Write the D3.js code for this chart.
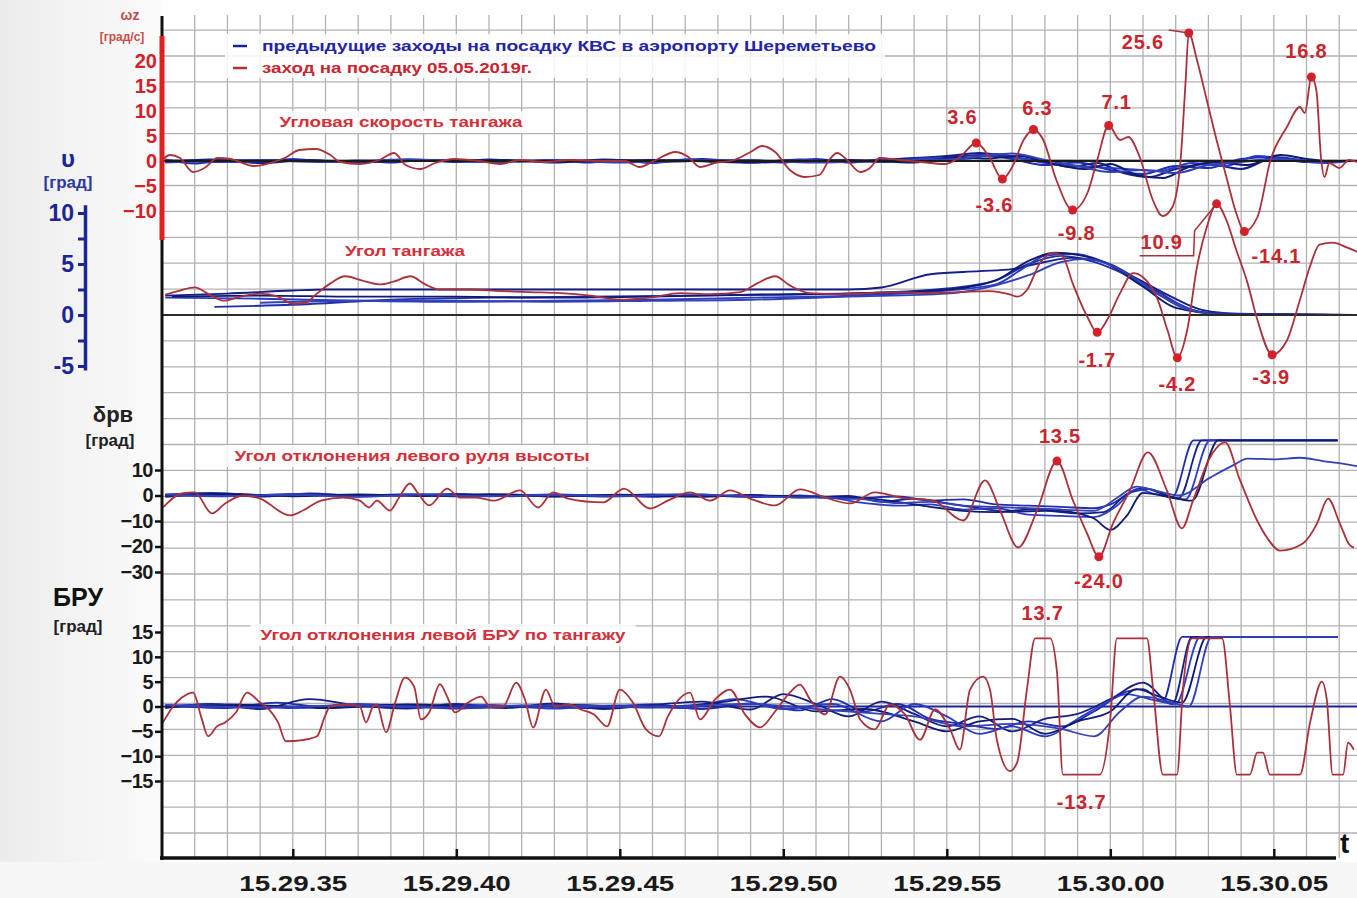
<!DOCTYPE html>
<html><head><meta charset="utf-8">
<script src="https://cdn.jsdelivr.net/npm/d3@7"></script>
<style>
body{margin:0;background:#fff}
svg{display:block}
text{font-family:"Liberation Sans",Arial,sans-serif;font-weight:bold}
</style></head>
<body><svg id="c" width="1357" height="898"></svg>
<script>
// ---------------- DATA (t = seconds after 15:29:00) ----------------
const timeTicks = [35, 40, 45, 50, 55, 60, 65];
const timeTickLabels = ["15.29.35","15.29.40","15.29.45","15.29.50","15.29.55","15.30.00","15.30.05"];
const wzTicks = [20, 15, 10, 5, 0, -5, -10];
const pitchTicks = [10, 7.5, 5, 2.5, 0, -2.5, -5];
const elevTicks = [10, 0, -10, -20, -30];
const bruTicks = [15, 10, 5, 0, -5, -10, -15];

const legendLabels = ["предыдущие заходы на посадку КВС в аэропорту Шереметьево", "заход на посадку 05.05.2019г."];
const panelTitles = ["Угловая скорость тангажа", "Угол тангажа", "Угол отклонения левого руля высоты", "Угол отклонения левой БРУ по тангажу"];

// Pitch rate ωz, flight 05.05.2019 (deg/s)
const wzRed = [[31,0.2],[31.25,1.2],[31.55,0.6],[31.95,-2.2],[32.3,-1.4],[32.7,0.6],[33.1,0.4],[33.8,-1.0],[34.3,-0.4],[34.75,0.6],[35.2,2.2],[35.7,2.4],[36.15,1.2],[36.45,-0.2],[37.05,-0.6],[37.65,0.2],[38.1,1.6],[38.45,-0.8],[38.9,-1.6],[39.35,-0.4],[39.95,0.4],[40.7,0],[41.35,-0.6],[41.95,0.2],[42.7,-0.2],[43.5,0.2],[44.4,0],[45.15,0],[45.6,-1.2],[46.1,0.2],[46.7,1.8],[47.1,0.8],[47.45,-1.2],[47.9,-0.4],[48.5,0.2],[49.0,1.8],[49.35,3.0],[49.75,1.8],[50.2,-1.8],[50.65,-3.2],[51.1,-2.8],[51.4,0.2],[51.65,1.6],[51.95,0.2],[52.35,-2.2],[52.65,-1.4],[52.95,0.6],[53.55,0.2],[54.2,-0.2],[54.95,-0.6],[55.4,0.8],[55.9,3.6],[56.3,0.8],[56.7,-3.6],[57.0,-1.2],[57.35,4.2],[57.65,6.3],[57.95,4.2],[58.35,-3.8],[58.85,-9.8],[59.3,-6.4],[59.6,0.2],[59.95,7.1],[60.3,4.2],[60.55,4.8],[60.9,0.8],[61.3,-7.8],[61.6,-11.0],[61.9,-9.2],[62.15,0.2],[62.3,15.6],[62.4,25.6],[62.65,20.2],[62.95,12.2],[63.25,4.2],[63.55,-3.2],[63.85,-10.4],[64.1,-14.1],[64.5,-11.2],[64.9,0.2],[65.4,6.8],[65.8,10.8],[65.95,9.6],[66.15,16.8],[66.3,14.2],[66.45,0.2],[66.55,-3.2],[66.7,-0.4],[67.0,-1.4],[67.3,0.2],[67.55,-0.2]];
// Pitch rate, previous approaches
const wzBlue1 = [[31.1,0.3],[32,-0.5],[33,0.2],[34,-0.3],[35,0.4],[36,-0.2],[37,0.1],[38,-0.3],[39,0.2],[40,-0.2],[41,0.3],[42,-0.1],[43,0.2],[44,-0.3],[45,0.2],[46,-0.4],[47,0.3],[48,-0.2],[49,0.2],[50,-0.3],[51,0.4],[52,-0.3],[53,0.3],[54,-0.2],[55,0.6],[56,1.2],[57,0.4],[58,-0.8],[59,-0.3],[60,-1.8],[61,-2.6],[62,-1.0],[63,-1.4],[64,0.4],[65,0.8],[66,0.1],[67,-0.2]];
const wzBlue2 = [[31.1,-0.2],[32.5,0.3],[34,-0.4],[35.5,0.2],[37,-0.3],[38.5,0.3],[40,-0.1],[41.5,0.2],[43,-0.3],[44.5,0.3],[46,-0.2],[47.5,0.4],[49,-0.3],[50.5,0.3],[52,-0.2],[53.5,0.4],[55,1.0],[56,1.6],[57,0.8],[58,-0.2],[58.8,-1.2],[59.6,-0.4],[60.4,-2.4],[61.2,-3.2],[62,-1.6],[63,-0.6],[64,-1.6],[65,0.6],[66,-0.2],[66.8,0]];
const wzBlue3 = [[31.1,0.1],[33,-0.2],[35,0.1],[37,-0.2],[39,0.1],[41,-0.2],[43,0.2],[45,-0.3],[47,0.2],[49,-0.2],[51,0.2],[53,-0.2],[54.5,0.6],[55.5,0.4],[56.5,1.4],[57.5,0.2],[58.5,-0.8],[59.5,-1.2],[60.5,-1.6],[61.5,-2.0],[62.5,-0.4],[63.5,-1.0],[64.5,1.0],[65.5,0.2],[66.5,-0.4],[67.3,0]];
const wzBlue4 = [[31.1,0],[34,0.2],[37,-0.1],[40,0.2],[43,-0.1],[46,0.2],[49,-0.3],[52,0.2],[54,-0.3],[55.3,0.8],[56.2,0.5],[57.2,1.0],[58.2,-0.5],[59.2,-1.6],[60,-0.6],[60.8,-2.8],[61.6,-3.4],[62.4,-1.2],[63.2,-0.2],[64.2,-0.8],[65.2,1.2],[66,0.4],[66.8,-0.2]];
const wzBlue5 = [[31.1,-0.3],[33.5,0.2],[36,-0.2],[38.5,0.3],[41,-0.2],[43.5,0.1],[46,-0.2],[48.5,0.2],[51,-0.3],[53.5,0.2],[55,0.3],[56,0.9],[57,1.5],[58,0.2],[59,-1.0],[60,-2.2],[61,-1.8],[62,-2.4],[63,-0.8],[64,-0.2],[65,0.4],[66.2,0]];

// Pitch angle ϑ (deg)
const pitchRed = [[31.1,2.0],[31.55,2.4],[32.0,2.7],[32.45,2.0],[32.9,1.4],[33.4,1.8],[34.0,2.1],[34.55,1.8],[35.0,1.1],[35.4,1.2],[35.7,2.0],[36.15,3.1],[36.6,3.8],[37.1,3.4],[37.65,3.0],[38.1,3.3],[38.6,3.8],[39.05,3.0],[39.5,2.5],[40.4,2.5],[41.35,2.35],[42.25,2.25],[43.2,2.15],[44.1,1.9],[45.0,1.5],[45.9,1.7],[46.85,2.15],[47.75,2.05],[48.7,2.25],[49.2,3.1],[49.75,3.8],[50.2,2.9],[50.8,2.15],[51.75,2.05],[52.65,2.15],[53.55,2.25],[54.5,2.15],[55.4,2.25],[56.3,2.35],[56.95,2.0],[57.15,1.8],[57.45,2.45],[57.85,5.1],[58.25,6.1],[58.55,5.7],[58.85,3.1],[59.3,-0.2],[59.6,-1.7],[59.9,-0.5],[60.3,2.15],[60.7,4.1],[61.0,3.7],[61.45,1.5],[61.75,-1.5],[62.05,-4.2],[62.35,-1.5],[62.65,4.7],[62.95,8.6],[63.25,10.9],[63.55,9.3],[63.85,6.4],[64.2,3.1],[64.5,-0.5],[64.95,-3.9],[65.4,-2.5],[65.8,1.5],[66.1,4.7],[66.4,6.9],[66.8,7.1],[67.25,6.6],[67.55,6.2]];
const pitchBlue1 = [[32.6,0.8],[35,1.0],[38,1.5],[41,1.7],[44,1.8],[47,1.9],[50,2.0],[53,2.2],[55,2.6],[56.5,3.4],[57.5,5.0],[58.5,5.8],[59.5,5.2],[60.5,3.9],[61.5,2.2],[62.5,0.5],[63.5,0.1],[67.5,0]];
const pitchBlue2 = [[31.1,1.9],[33,2.1],[35,2.4],[36,2.5],[52,2.5],[53,2.7],[54.5,4.0],[56,4.3],[57,4.5],[58,5.2],[58.8,5.6],[59.8,5.2],[60.8,3.6],[61.8,1.9],[62.8,0.5],[64,0.1],[67.5,0]];
const pitchBlue3 = [[31.1,1.7],[34,1.6],[37,1.4],[40,1.3],[43,1.4],[46,1.5],[49,1.7],[52,1.9],[55,2.4],[56.5,3.0],[57.3,4.5],[58,5.8],[58.8,6.0],[59.8,5.2],[60.8,3.2],[61.8,1.5],[63,0.2],[67.5,0]];
const pitchBlue4 = [[31.3,1.8],[34,1.9],[37,1.8],[40,1.8],[43,1.7],[46,1.8],[49,2.0],[52,2.1],[55,2.5],[56.5,3.4],[57.5,5.3],[58.3,6.1],[59,5.9],[60,4.9],[61,2.8],[62,0.7],[63.5,0.1],[67.5,0]];
const pitchBlue5 = [[34,1.2],[37,1.4],[40,1.4],[43,1.3],[46,1.4],[49,1.5],[52,1.8],[55,2.1],[56.5,2.9],[57.5,3.9],[58.5,5.2],[59.3,5.5],[60.2,4.6],[61.2,2.6],[62.3,0.6],[63.5,0.05],[67.5,0]];

// Left elevator deflection δрв (deg)
const elevRed = [[31.03,-4.7],[31.61,0.8],[32.0,1.2],[32.53,-7.0],[32.93,-3.1],[33.48,0],[34.0,-1.2],[34.91,-7.8],[35.31,-5.9],[35.86,-2.0],[36.54,-0.8],[37.05,-2.0],[37.33,-4.7],[37.57,-2.0],[37.97,-5.9],[38.25,-0.8],[38.58,4.7],[38.83,0.8],[39.17,-3.9],[39.72,2.7],[40.11,-0.8],[40.63,-0.8],[41.15,-2.0],[41.95,2.0],[42.5,-4.7],[42.96,1.2],[43.42,-1.2],[44.49,-2.7],[45.13,2.7],[45.92,-5.1],[46.47,-2.0],[47.15,1.2],[47.76,-2.0],[48.37,2.0],[48.98,-1.2],[49.75,-3.9],[50.51,2.4],[51.28,-0.8],[52.04,-3.1],[52.8,1.2],[53.57,-0.8],[54.58,-2.0],[55.5,-9.8],[56.17,5.9],[56.63,-5.9],[57.18,-20.4],[57.76,-5.9],[58.37,13.5],[58.86,-2.0],[59.29,-14.9],[59.65,-24.0],[60.08,-11.0],[60.6,2.0],[61.15,16.9],[61.73,2.0],[62.19,-12.9],[62.53,-2.0],[63.05,14.9],[63.51,20.8],[63.97,5.9],[64.49,-9.8],[64.79,-16.5],[65.19,-21.6],[65.89,-18.8],[66.32,-11.0],[66.66,-1.2],[67.02,-11.0],[67.33,-19.6],[67.45,-20.4]];
const elevBlue1 = [[31.1,0.3],[32.5,1.0],[34,0.2],[35.5,0.6],[37,0],[38.5,0.5],[40,-0.3],[41.5,0.4],[43,-0.4],[44.5,0.2],[46,-0.5],[47.5,0.3],[49,-0.6],[50.5,0],[52,-1.2],[53.5,-0.4],[54.5,-2.0],[55.5,-1.5],[56.5,-3.5],[57.5,-4.0],[58.5,-4.5],[59.5,-5.0],[60,-3.5],[60.7,1.5],[61.2,2.5],[61.9,-0.5],[62.55,21.6],[66.95,21.6]];
const elevBlue2 = [[31.1,-0.5],[32.5,0.5],[34,-0.4],[35.5,0.8],[37,-0.2],[38.5,0.2],[40,0.6],[41.5,-0.3],[43,0.3],[44.5,-0.4],[46,0.4],[47.5,-0.5],[49,0.2],[50.5,-0.8],[52,-0.2],[53,-2.5],[54,-1.2],[55,-3.0],[56,-5.0],[57,-6.5],[58,-6.0],[59,-7.0],[59.8,-6.5],[60.5,0.5],[61,3.0],[61.5,1.0],[62.1,-1.0],[62.8,21.6],[66.95,21.6]];
const elevBlue3 = [[31.1,0.2],[33,-0.3],[35,0.5],[37,-0.4],[39,0.3],[41,-0.2],[43,0.4],[45,-0.3],[47,0.2],[49,-0.5],[51,-0.2],[52.5,-3.0],[53.5,-4.0],[54.5,-3.5],[55.5,-5.5],[56.5,-5.0],[57.5,-7.5],[58.5,-8.0],[59.5,-8.5],[60.2,-4.0],[60.8,2.5],[61.4,0.5],[62.3,-1.5],[63.05,21.6],[66.95,21.6]];
const elevBlue4 = [[31.1,0],[33,0.6],[35,-0.3],[37,0.4],[39,-0.2],[41,0.5],[43,-0.3],[45,0.3],[47,-0.4],[49,0.1],[51,-0.6],[52.5,-1.0],[53.5,-2.5],[54.5,-4.5],[55.5,-6.0],[56.5,-6.5],[57.5,-5.5],[58.5,-6.0],[59.5,-9.0],[60,-13.5],[60.5,-8.0],[61,1.0],[61.6,0.0],[62.5,-2.0],[63.3,21.6],[66.95,21.6]];
const elevBlue5 = [[31.1,0.4],[33,-0.2],[35,0.3],[37,-0.5],[39,0.4],[41,-0.3],[43,0.2],[45,-0.2],[47,0.5],[49,-0.3],[51,-0.8],[52.5,-1.5],[53.5,-3.0],[54.5,-2.5],[55.5,-4.0],[56.5,-4.5],[57.5,-5.0],[58.5,-5.5],[59.5,-6.0],[60.2,-1.0],[60.8,3.5],[61.5,1.5],[62.1,0],[63.05,7.0],[63.75,11.8],[64.2,14.5],[65,14.2],[65.8,14.8],[66.5,13.5],[67.1,12.5],[67.55,11.5]];

// Left stabilizer (БРУ) pitch deflection (deg)
const bruRed = [[31.03,-3.2],[31.34,0],[31.61,1.8],[31.95,2.8],[32.22,-2.6],[32.41,-6.0],[32.68,-4.0],[32.93,-3.2],[33.26,-1.2],[33.6,2.8],[34.0,0.8],[34.27,-0.6],[34.55,-3.2],[34.79,-7.0],[35.34,-6.7],[35.74,-6.0],[35.98,-2.0],[36.14,0],[36.66,0.4],[37.05,0],[37.24,-3.2],[37.45,0],[37.57,0.4],[37.85,-5.2],[38.13,0.8],[38.43,5.8],[38.71,4.0],[38.92,-2.6],[39.17,-1.2],[39.5,4.5],[39.72,2.0],[39.96,-1.2],[40.36,0.8],[40.76,2.0],[41.03,0],[41.43,0],[41.83,4.8],[42.1,1.4],[42.35,-4.2],[42.74,3.4],[43.02,0],[43.42,0.4],[43.81,-0.6],[44.21,-1.6],[44.61,-4.0],[45.0,3.4],[45.4,0.8],[45.8,-4.6],[46.2,-6.0],[46.47,-2.0],[47.15,2.8],[47.45,-2.6],[47.91,1.4],[48.37,3.4],[48.83,-1.6],[49.29,-4.2],[49.75,-1.0],[50.2,2.8],[50.51,4.4],[50.82,1.4],[51.28,-1.6],[51.73,6.0],[52.04,3.4],[52.35,-2.6],[52.8,-4.6],[53.26,0.4],[53.72,-1.6],[54.18,-6.7],[54.64,-0.6],[55.1,-4.6],[55.4,-8.7],[55.71,3.4],[56.11,6.0],[56.32,3.4],[56.53,-6.7],[56.93,-13.0],[57.15,-11.3],[57.45,3.4],[57.7,13.7],[58.16,13.7],[58.37,6.9],[58.55,-13.7],[59.68,-13.7],[59.99,-3.2],[60.2,13.7],[61.12,13.7],[61.31,3.4],[61.61,-13.7],[62.04,-13.7],[62.22,3.4],[62.5,13.7],[63.42,13.7],[63.66,0],[63.87,-13.7],[64.27,-13.7],[64.49,-9.3],[64.67,-9.3],[64.88,-13.7],[65.8,-13.7],[66.11,-3.2],[66.47,5.0],[66.62,1.4],[66.8,-13.7],[67.12,-13.7],[67.27,-7.3],[67.45,-8.7]];
const bruBlue1 = [[31.1,0.2],[33,-0.3],[34.5,0.8],[36,-0.2],[38,0.3],[40,-0.4],[42,0.2],[44,-0.3],[46,0.4],[47.5,-0.5],[49,0.6],[50.5,-0.8],[51.5,1.5],[52.5,-1.0],[53.5,0.5],[54.5,-2.5],[55.5,-3.5],[56.5,-4.5],[57.5,-3.0],[58.5,-4.0],[59.5,-1.0],[60.5,3.0],[61.0,3.5],[61.6,1.0],[62.2,14.0],[66.95,14.0]];
const bruBlue2 = [[31.1,-0.3],[32.5,0.5],[34,-0.5],[35.5,1.5],[37,0.2],[38.5,-0.4],[40,0.5],[41.5,-0.3],[43,0.6],[44.5,-0.5],[46,0.3],[47.5,1.0],[49,-0.6],[50,2.5],[51,0.5],[52,-2.0],[53,1.0],[54,-1.5],[55,-4.0],[56,-2.0],[57,-5.0],[58,-2.5],[59,-1.5],[60,1.5],[61,4.8],[61.9,0.5],[62.5,14.0],[66.95,14.0]];
const bruBlue3 = [[31.1,0.1],[33,0.4],[35,-0.3],[37,0.5],[39,-0.2],[41,0.3],[43,-0.4],[45,0.2],[47,-0.3],[48.5,1.5],[50,-0.5],[51.5,0.5],[53,-3.0],[54,0.5],[55,-2.0],[56,-5.5],[57,-4.0],[58,-6.0],[59,-2.5],[59.8,0.5],[60.5,2.5],[61.2,1.5],[62,0.5],[62.75,14.0],[66.95,14.0]];
const bruBlue4 = [[31.1,-0.1],[33.5,0.3],[36,-0.3],[38.5,0.4],[41,-0.2],[43.5,0.3],[46,-0.2],[48,0.8],[49.5,2.0],[51,-1.0],[52.5,-0.5],[54,-3.0],[55,-5.0],[56,-3.0],[57,-2.5],[58,-5.5],[59,-3.0],[60,-1.0],[60.8,3.5],[61.5,2.0],[62.2,0.8],[62.95,14.0],[66.95,14.0]];
const bruBlue5 = [[31.1,0.3],[34,-0.2],[37,0.2],[40,-0.2],[43,0.2],[46,-0.1],[49,0.5],[51,-0.5],[53,-1.5],[54,-2.0],[55.5,-4.0],[57,-3.5],[58.5,-4.5],[59.5,-6.0],[60.3,-1.0],[61,2.0],[61.8,1.0],[62.4,0],[63.1,14.0],[66.95,14.0]];

// Annotated extrema of the red traces
const wzMarks = [[55.9,3.6],[56.7,-3.6],[57.65,6.3],[58.85,-9.8],[59.95,7.1],[62.4,25.6],[64.1,-14.1],[66.15,16.8]];
const pitchMarks = [[59.6,-1.7],[62.05,-4.2],[63.25,10.9],[64.95,-3.9]];
const elevMarks = [[58.37,13.5],[59.65,-24.0]];
const bruMarks = [[57.93,13.7],[59.12,-13.7]];

// ---------------- LAYOUT ----------------
const W = 1357, H = 898;
const svg = d3.select("#c");
const RED = "#a9323a", RED_TXT = "#c9252f", NAVY = "#1b2596";
const blueCols = ["#1f2cab", "#141f86", "#2a3cc4", "#0f1a72", "#3341b6"];

const x = d3.scaleLinear().domain([31, 67.6]).range([162, 162 + 36.6 * 32.7]);
const yWz = d3.scaleLinear().domain([-15.8, 25]).range([240, 36]);
const yPitch = d3.scaleLinear().domain([-5.4, 10.8]).range([315 + 5.4 * 10.2, 315 - 10.8 * 10.2]);
const yElev = d3.scaleLinear().domain([-30, 10]).range([572, 470]);
const yBru = d3.scaleLinear().domain([-15, 15]).range([781, 632]);

// background
const defs = svg.append("defs");
const lg = defs.append("linearGradient").attr("id", "bg").attr("x1", 0).attr("x2", 1).attr("y1", 0).attr("y2", 0);
lg.append("stop").attr("offset", 0).attr("stop-color", "#ececec");
lg.append("stop").attr("offset", 1).attr("stop-color", "#fbfbfb");
svg.append("rect").attr("width", W).attr("height", H).attr("fill", "#fff");
svg.append("rect").attr("width", 162).attr("height", H).attr("fill", "url(#bg)");
svg.append("rect").attr("y", 862).attr("width", W).attr("height", 36).attr("fill", "#f7f7f7");

// grid
const grid = svg.append("g").attr("stroke", "#b2b2b2").attr("stroke-width", 1.3);
d3.range(32, 68).forEach(t => grid.append("line").attr("x1", x(t)).attr("x2", x(t)).attr("y1", 15).attr("y2", 858));
for (let k = -11; 315 + k * 25.9 < 858; k++) {
  const yy = 315 + k * 25.9;
  grid.append("line").attr("x1", 162).attr("x2", W).attr("y1", yy).attr("y2", yy);
}

// white boxes behind text
function box(cx, cy, w, h) {
  svg.append("rect").attr("x", cx - w / 2).attr("y", cy - h / 2).attr("width", w).attr("height", h).attr("fill", "#fff").attr("opacity", 0.85);
}
box(555, 56, 660, 44);
box(401, 122, 262, 22);
box(405, 251, 140, 22);
box(412, 456, 375, 22);
box(443, 635, 385, 22);

// lines
const lineGen = y => d3.line().x(d => x(d[0])).y(d => y(d[1])).curve(d3.curveMonotoneX);
function draw(data, y, col, w) {
  svg.append("path").datum(data).attr("d", lineGen(y)).attr("fill", "none").attr("stroke", col).attr("stroke-width", w).attr("stroke-linejoin", "round");
}
function zero(y, col, w) {
  svg.append("line").attr("x1", 162).attr("x2", W).attr("y1", y(0)).attr("y2", y(0)).attr("stroke", col).attr("stroke-width", w);
}

// blue traces
[wzBlue1, wzBlue2, wzBlue3, wzBlue4, wzBlue5].forEach((d, i) => draw(d, yWz, blueCols[i], 2));
[pitchBlue1, pitchBlue2, pitchBlue3, pitchBlue4, pitchBlue5].forEach((d, i) => draw(d, yPitch, blueCols[i], 1.9));
[elevBlue1, elevBlue2, elevBlue3, elevBlue4, elevBlue5].forEach((d, i) => draw(d, yElev, blueCols[i], 1.8));
zero(yBru, NAVY, 2);
[bruBlue1, bruBlue2, bruBlue3, bruBlue4, bruBlue5].forEach((d, i) => draw(d, yBru, blueCols[i], 1.8));
zero(yWz, "#1a1a1a", 2.2);
zero(yPitch, "#2a2a2a", 2);

// red traces
draw(wzRed, yWz, RED, 1.8);
draw(pitchRed, yPitch, RED, 1.8);
draw(elevRed, yElev, RED, 1.8);
draw(bruRed, yBru, RED, 1.8);

// annotation dots + labels
const ann = svg.append("g");
function mark(list, y, offs, dots = true) {
  list.forEach((m, i) => {
    const px = x(m[0]), py = y(m[1]);
    if (dots) ann.append("circle").attr("cx", px).attr("cy", py).attr("r", 4.5).attr("fill", "#d3202b");
    ann.append("text").attr("x", px + offs[i][0]).attr("y", py + offs[i][1]).attr("text-anchor", "middle")
      .attr("dominant-baseline", "central").attr("font-size", 20).attr("letter-spacing", 0.8).attr("fill", RED_TXT)
      .text(m[1].toFixed(1));
  });
}
mark(wzMarks, yWz, [[-14, -26], [-8, 26], [4, -22], [4, 23], [8, -24], [-46, 9], [32, 24], [-5, -26]]);
mark(pitchMarks, yPitch, [[0, 28], [0, 26], [-55, 38], [-1, 22]]);
mark(elevMarks, yElev, [[3, -25], [0, 24]]);
mark(bruMarks, yBru, [[0, -25], [0, 27]], false);
// leaders
{
  const p = wzMarks[5]; const px = x(p[0]), py = yWz(p[1]);
  ann.append("line").attr("x1", px - 20).attr("x2", px).attr("y1", py - 3).attr("y2", py).attr("stroke", RED).attr("stroke-width", 1.3);
  const q = pitchMarks[2]; const qx = x(q[0]), qy = yPitch(q[1]);
  ann.append("polyline").attr("points", [[qx - 77, qy + 52], [qx - 23, qy + 52], [qx - 22, qy + 27], [qx, qy]].map(a => a.join(",")).join(" "))
    .attr("fill", "none").attr("stroke", RED).attr("stroke-width", 1.5);
}

// panel titles
const titlePos = [[401, 127, 243], [405, 256, 120], [412, 461, 355], [443, 640, 365]];
panelTitles.forEach((t, i) => {
  svg.append("text").attr("x", titlePos[i][0]).attr("y", titlePos[i][1]).attr("text-anchor", "middle")
    .attr("font-size", 14).attr("fill", "#d2303a").attr("textLength", titlePos[i][2]).attr("lengthAdjust", "spacingAndGlyphs").text(t);
});

// legend
[[NAVY, "#2424a8"], [RED, "#c9252f"]].forEach((c, i) => {
  const yy = 46 + i * 22;
  svg.append("line").attr("x1", 233).attr("x2", 247).attr("y1", yy).attr("y2", yy).attr("stroke", c[0]).attr("stroke-width", 2.5);
  svg.append("text").attr("x", 262).attr("y", yy + 5).attr("font-size", 15).attr("fill", c[1])
    .attr("textLength", i === 0 ? 614 : 270).attr("lengthAdjust", "spacingAndGlyphs").text(legendLabels[i]);
});

// main axes lines
svg.append("line").attr("x1", 162).attr("x2", 162).attr("y1", 16).attr("y2", 860).attr("stroke", "#111").attr("stroke-width", 3);
svg.append("line").attr("x1", 160).attr("x2", 1336).attr("y1", 858).attr("y2", 858).attr("stroke", "#111").attr("stroke-width", 3.5);
svg.append("line").attr("x1", 162).attr("x2", 162).attr("y1", yWz(25)).attr("y2", yWz(-15.8)).attr("stroke", "#e0201f").attr("stroke-width", 5);

// bottom axis
const ax = svg.append("g").attr("transform", "translate(0,858)")
  .call(d3.axisBottom(x).tickValues(timeTicks).tickFormat((d, i) => timeTickLabels[i]).tickSize(-9).tickPadding(17));
ax.select(".domain").remove();
ax.selectAll(".tick line").attr("stroke", "#111").attr("stroke-width", 2.5);
ax.selectAll(".tick text").attr("font-size", 22).attr("fill", "#1a1a1a").attr("font-family", "Liberation Sans, Arial").attr("font-weight", "bold")
  .attr("textLength", 108).attr("lengthAdjust", "spacingAndGlyphs");
svg.append("text").attr("x", 1340).attr("y", 853).attr("font-size", 28).attr("fill", "#111").text("t");

// ωz axis (labels only)
const aw = svg.append("g").attr("transform", "translate(158,0)")
  .call(d3.axisLeft(yWz).tickValues(wzTicks).tickSize(0).tickPadding(1));
aw.select(".domain").remove();
aw.selectAll(".tick text").attr("font-size", 20).attr("fill", "#d3202b").attr("font-family", "Liberation Sans, Arial").attr("font-weight", "bold");
svg.append("text").attr("x", 130).attr("y", 20).attr("text-anchor", "middle").attr("font-size", 14).attr("font-weight", "normal").attr("fill", "#c94a4a").text("ωz");
svg.append("text").attr("x", 122).attr("y", 41).attr("text-anchor", "middle").attr("font-size", 12).attr("font-weight", "normal").attr("fill", "#c94a4a").text("[град/с]");

// pitch axis (blue)
const ap = svg.append("g").attr("transform", "translate(85,0)")
  .call(d3.axisLeft(yPitch).tickValues(pitchTicks).tickFormat(d => (d % 5 === 0 ? d : "")).tickSize(7).tickSizeOuter(0).tickPadding(4));
ap.select(".domain").attr("stroke", NAVY).attr("stroke-width", 3.5);
ap.selectAll(".tick line").attr("stroke", NAVY).attr("stroke-width", 3);
ap.selectAll(".tick text").attr("font-size", 23).attr("fill", NAVY).attr("font-family", "Liberation Sans, Arial").attr("font-weight", "bold");
svg.append("text").attr("x", 68).attr("y", 167).attr("text-anchor", "middle").attr("font-size", 24).attr("font-weight", "normal").attr("fill", NAVY).text("υ");
svg.append("text").attr("x", 68).attr("y", 188).attr("text-anchor", "middle").attr("font-size", 17).attr("font-weight", "normal").attr("fill", "#2f3aa0").text("[град]");

// elevator axis
const ae = svg.append("g").attr("transform", "translate(162,0)")
  .call(d3.axisLeft(yElev).tickValues(elevTicks).tickSize(7).tickPadding(2));
ae.select(".domain").remove();
ae.selectAll(".tick line").attr("stroke", "#111").attr("stroke-width", 2.5);
ae.selectAll(".tick text").attr("font-size", 20).attr("fill", "#1a1a1a").attr("font-family", "Liberation Sans, Arial").attr("font-weight", "bold").attr("letter-spacing", -0.5);
svg.append("text").attr("x", 113).attr("y", 422).attr("text-anchor", "middle").attr("font-size", 22).attr("font-weight", "normal").attr("fill", "#222").text("δрв");
svg.append("text").attr("x", 110).attr("y", 446).attr("text-anchor", "middle").attr("font-size", 17).attr("font-weight", "normal").attr("fill", "#222").text("[град]");

// BRU axis
const ab = svg.append("g").attr("transform", "translate(162,0)")
  .call(d3.axisLeft(yBru).tickValues(bruTicks).tickSize(7).tickPadding(2));
ab.select(".domain").remove();
ab.selectAll(".tick line").attr("stroke", "#111").attr("stroke-width", 2.5);
ab.selectAll(".tick text").attr("font-size", 20).attr("fill", "#1a1a1a").attr("font-family", "Liberation Sans, Arial").attr("font-weight", "bold").attr("letter-spacing", -0.5);
svg.append("text").attr("x", 78).attr("y", 606).attr("text-anchor", "middle").attr("font-size", 25).attr("fill", "#111").text("БРУ");
svg.append("text").attr("x", 78).attr("y", 632).attr("text-anchor", "middle").attr("font-size", 17).attr("font-weight", "normal").attr("fill", "#222").text("[град]");
</script></body></html>
